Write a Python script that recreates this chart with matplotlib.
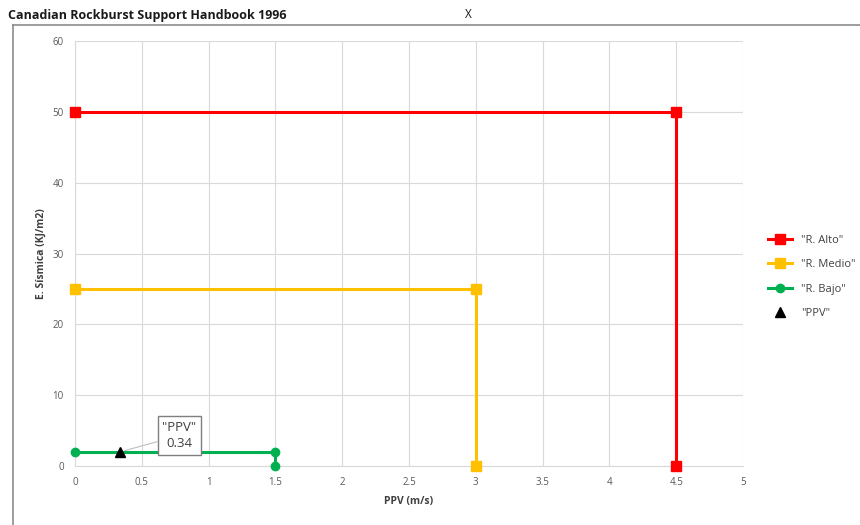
import matplotlib.pyplot as plt
from matplotlib.lines import Line2D

RED = "#FF0000"
YELLOW = "#FFC000"
GREEN = "#00B050"

alto_x = [0, 4.5, 4.5]
alto_y = [50, 50, 0]
medio_x = [0, 3, 3]
medio_y = [25, 25, 0]
bajo_x = [0, 1.5, 1.5]
bajo_y = [2, 2, 0]
ppv_x = [0.34]
ppv_y = [2]

plt.rcParams['font.family'] = ['Open Sans', 'DejaVu Sans']

fig = plt.figure(figsize=(8.6, 5.25), dpi=100)
ax = fig.add_axes([75/860, 1-466/525, (743-75)/860, (466-41)/525])

# outer chart frame (only left and top edges visible)
fig.add_artist(Line2D([13/860, 13/860], [0, 1-25/525], color="#8c8c8c", lw=1.2))
fig.add_artist(Line2D([13/860, 1], [1-25/525, 1-25/525], color="#8c8c8c", lw=1.2))

fig.text(8/860, 1-15/525, "Canadian Rockburst Support Handbook 1996", fontsize=9,
         fontweight="bold", va="center", ha="left", color="#1a1a1a")
fig.text(468/860, 1-15/525, "X", fontsize=8.5, va="center", ha="center", color="#1a1a1a")

ax.plot(alto_x, alto_y, color=RED, lw=2.2, marker="s", ms=7.5, label='"R. Alto"', zorder=3, clip_on=False)
ax.plot(medio_x, medio_y, color=YELLOW, lw=2.2, marker="s", ms=7.5, label='"R. Medio"', zorder=3, clip_on=False)
ax.plot(bajo_x, bajo_y, color=GREEN, lw=2.2, marker="o", ms=6, label='"R. Bajo"', zorder=3, clip_on=False)
ax.plot(ppv_x, ppv_y, ls="none", color="black", marker="^", ms=6.5, label='"PPV"', zorder=4, clip_on=False)

ax.annotate('"PPV"\n0.34', xy=(ppv_x[0], ppv_y[0]), xytext=(0.78, 4.3),
            ha="center", va="center", fontsize=9.5, color="#404040", linespacing=1.3,
            bbox=dict(boxstyle="square,pad=0.35", fc="white", ec="#7f7f7f", lw=1),
            arrowprops=dict(arrowstyle="-", color="#bfbfbf", lw=0.8,
                            shrinkA=0, shrinkB=3), zorder=5)

ax.set_xlim(0, 5)
ax.set_ylim(0, 60)
ax.set_xticks([0, 0.5, 1, 1.5, 2, 2.5, 3, 3.5, 4, 4.5, 5])
ax.set_xticklabels(["0", "0.5", "1", "1.5", "2", "2.5", "3", "3.5", "4", "4.5", "5"])
ax.set_yticks([0, 10, 20, 30, 40, 50, 60])
ax.tick_params(length=0, labelsize=7, colors="#595959", pad=8)
ax.grid(color="#d9d9d9", lw=0.8)
ax.set_axisbelow(True)
for s in ["top", "right"]:
    ax.spines[s].set_visible(False)
ax.spines["left"].set_color("#d9d9d9")
ax.spines["bottom"].set_color("#d9d9d9")

ax.set_xlabel("PPV (m/s)", fontsize=7.5, fontweight="bold", color="#404040", labelpad=6)
ax.set_ylabel("E. Sísmica (KJ/m2)", fontsize=7.5, fontweight="bold", color="#404040", labelpad=4)

ax.legend(loc="center left", bbox_to_anchor=(758/860, 1-277/525), bbox_transform=fig.transFigure,
          frameon=False, fontsize=8, labelspacing=1.2, handlelength=2.2, labelcolor="#404040")

fig.savefig("out.png", dpi=100)
